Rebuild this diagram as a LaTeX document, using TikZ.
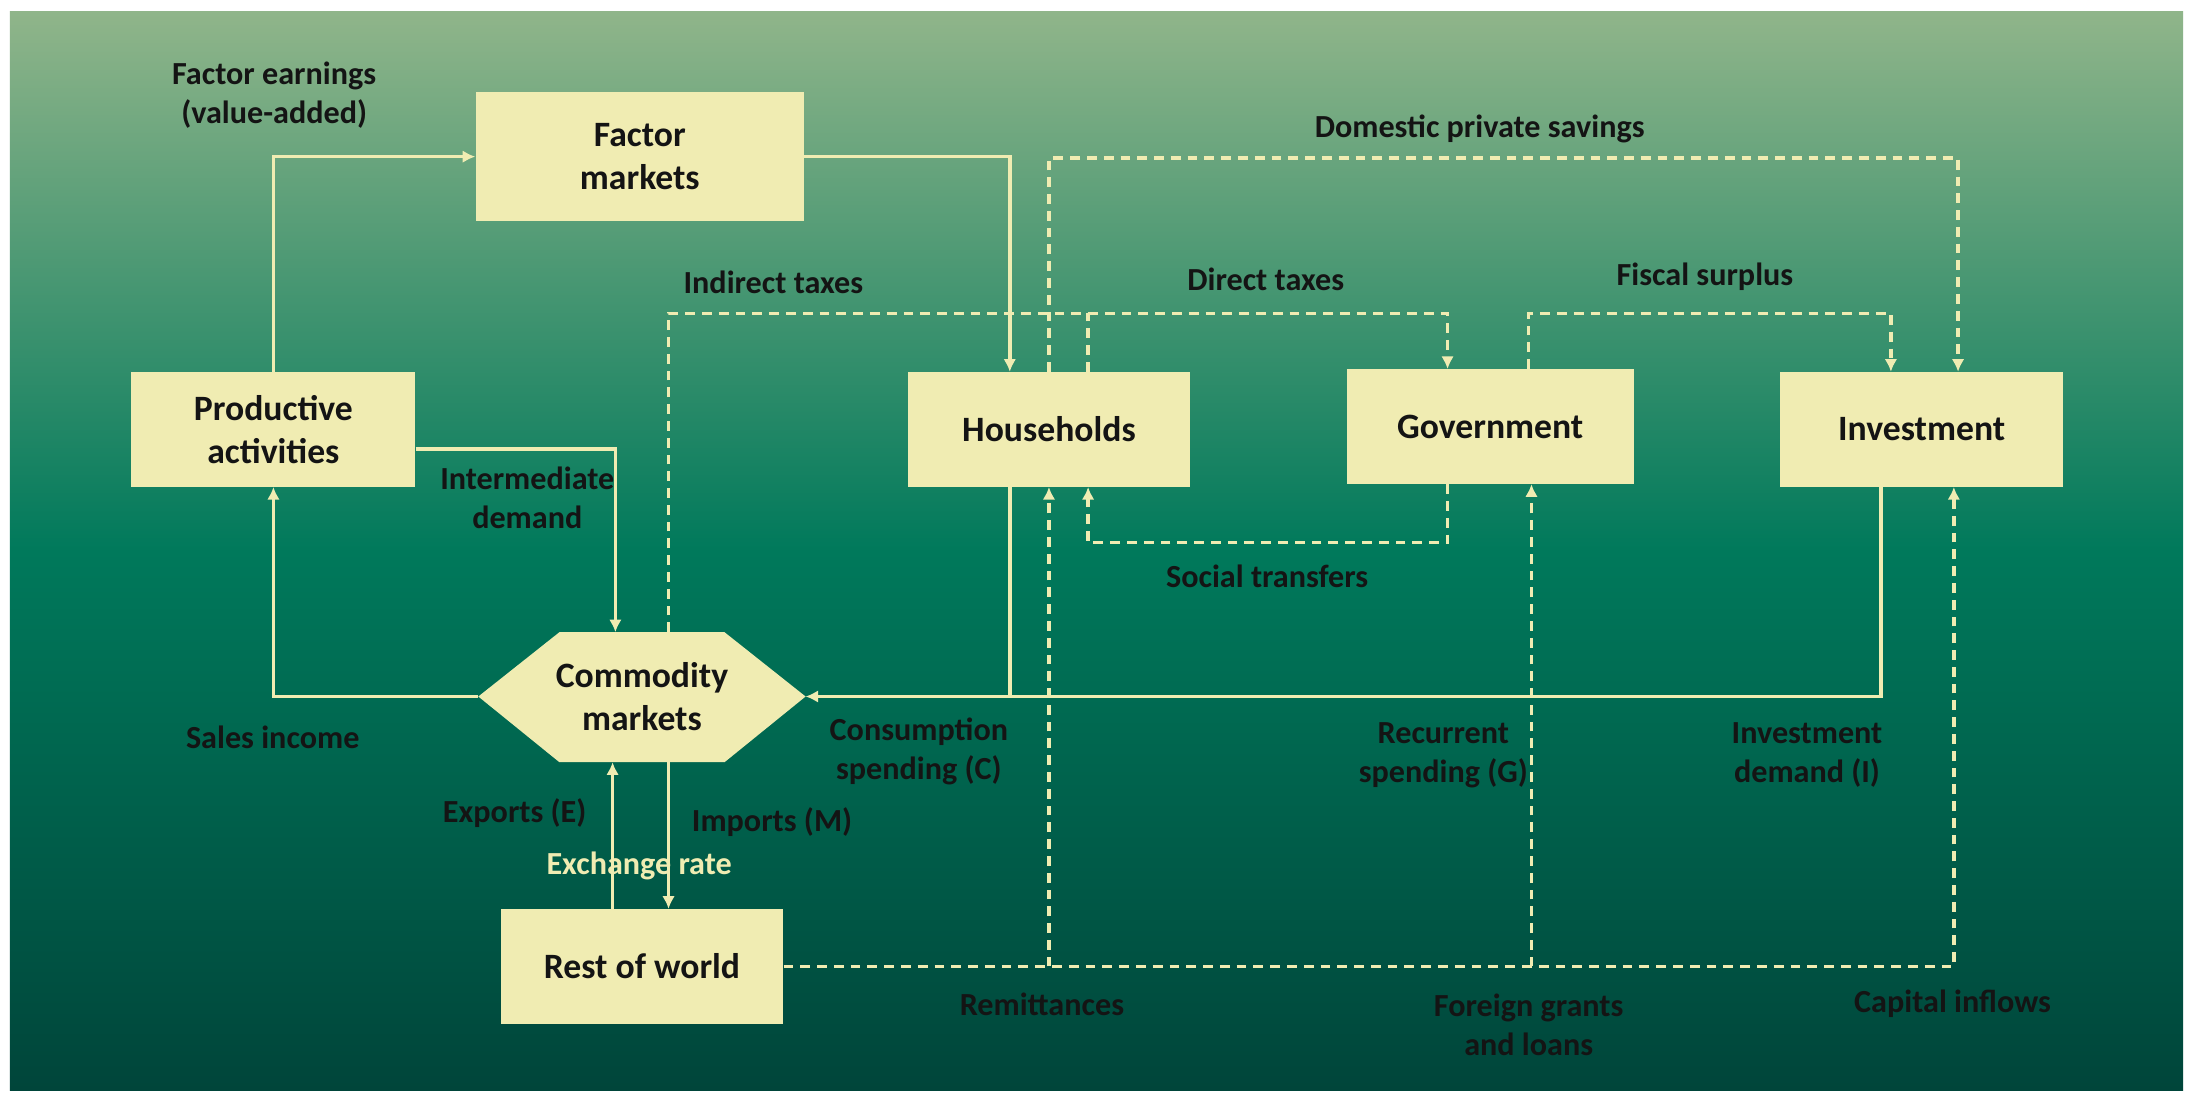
\documentclass[tikz,border=0pt]{standalone}
\usepackage{fontspec}
\setmainfont{Carlito}
\usetikzlibrary{arrows.meta}
\definecolor{boxc}{HTML}{F0ECB2}
\definecolor{txt}{HTML}{141414}
\definecolor{gtop}{HTML}{90B58A}
\definecolor{gmid}{HTML}{00795B}
\definecolor{gbot}{HTML}{00453A}
\begin{document}
\begin{tikzpicture}[x=1pt,y=-1pt,
  box/.style={fill=boxc,draw=none,inner sep=0,font=\fontsize{25.5}{31}\selectfont\bfseries,text=txt,align=center},
  lab/.style={font=\fontsize{23}{28}\selectfont\bfseries,text=txt,align=center},
  flow/.style={draw=boxc,line width=2.5pt,-{Latex[length=9pt,width=9pt]}},
  flown/.style={draw=boxc,line width=2.5pt},
  dflow/.style={draw=boxc,line width=2.5pt,dash pattern=on 7pt off 5pt,-{Latex[length=9pt,width=9pt]}},
  dflown/.style={draw=boxc,line width=2.5pt,dash pattern=on 7pt off 5pt}]
\useasboundingbox (0,0) rectangle (1568,789);
\fill[white] (0,0) rectangle (1568,789);
\shade[top color=gtop,bottom color=gbot,middle color=gmid] (7,8) rectangle (1561,780);
% boxes
\node[box,minimum width=235pt,minimum height=92pt] (fm) at (457.5,112) {Factor\\markets};
\node[box,minimum width=203pt,minimum height=82pt] (pa) at (195.5,307) {Productive\\activities};
\node[box,minimum width=202pt,minimum height=82pt] (hh) at (750,307) {Households};
\node[box,minimum width=205pt,minimum height=82pt] (gov) at (1065.5,305) {Government};
\node[box,minimum width=202pt,minimum height=82pt] (inv) at (1374,307) {Investment};
\node[box,minimum width=202pt,minimum height=82pt] (row) at (459,691) {Rest of world};
\fill[boxc] (342,498)--(400,452)--(518,452)--(576,498)--(518,545)--(400,545)--cycle;
\node[box,fill=none] (cm) at (459,498) {Commodity\\markets};
\coordinate (cmL) at (342,498); \coordinate (cmR) at (576,498);
% solid flows
\draw[flow] (pa.north) |- (fm.west);
\draw[flow] (fm.east) -| (hh.north -| 722,0);
\draw[flow] (pa.east |- 0,321) -| (440,452);
\draw[flow] (cmL) -| (pa.south);
\draw[flown] (hh.south -| 722,0) -- (722,498);
\draw[flow] (inv.south -| 1345,0) |- (cmR);
\draw[flow] (row.north -| 438,0) -- (438,545);
\draw[flow] (478,545) -- (row.north -| 478,0);
% dashed flows
\draw[dflow] (478,452) |- (1035,224) -- (gov.north -| 1035,0);
\draw[dflown] (hh.north -| 778,0) -- (778,224);
\draw[dflow] (hh.north -| 750,0) |- (1400,113) -- (inv.north -| 1400,0);
\draw[dflow] (gov.north -| 1093,0) |- (1352,224) -- (inv.north -| 1352,0);
\draw[dflow] (gov.south -| 1035,0) |- (778,388) -- (hh.south -| 778,0);
\draw[dflow] (row.east) -| (inv.south -| 1397,0);
\draw[dflow] (750,691) -- (hh.south -| 750,0);
\draw[dflow] (1095,691) -- (gov.south -| 1095,0);
% labels
\node[lab] at (196,68) {Factor earnings\\(value-added)};
\node[lab] at (377,356) {Intermediate\\demand};
\node[lab] at (195,527) {Sales income};
\node[lab] at (657,537) {Consumption\\spending (C)};
\node[lab] at (1032,540) {Recurrent\\spending (G)};
\node[lab] at (1292,540) {Investment\\demand (I)};
\node[lab] at (368,581) {Exports (E)};
\node[lab] at (552,588) {Imports (M)};
\node[lab,text=boxc] at (457,619) {Exchange rate};
\node[lab] at (553,202) {Indirect taxes};
\node[lab] at (905,200) {Direct taxes};
\node[lab] at (1058,92) {Domestic private savings};
\node[lab] at (1219,198) {Fiscal surplus};
\node[lab] at (906,412) {Social transfers};
\node[lab] at (745,718) {Remittances};
\node[lab] at (1093,733) {Foreign grants\\and loans};
\node[lab] at (1396,718) {Capital inflows};
\end{tikzpicture}
\end{document}
